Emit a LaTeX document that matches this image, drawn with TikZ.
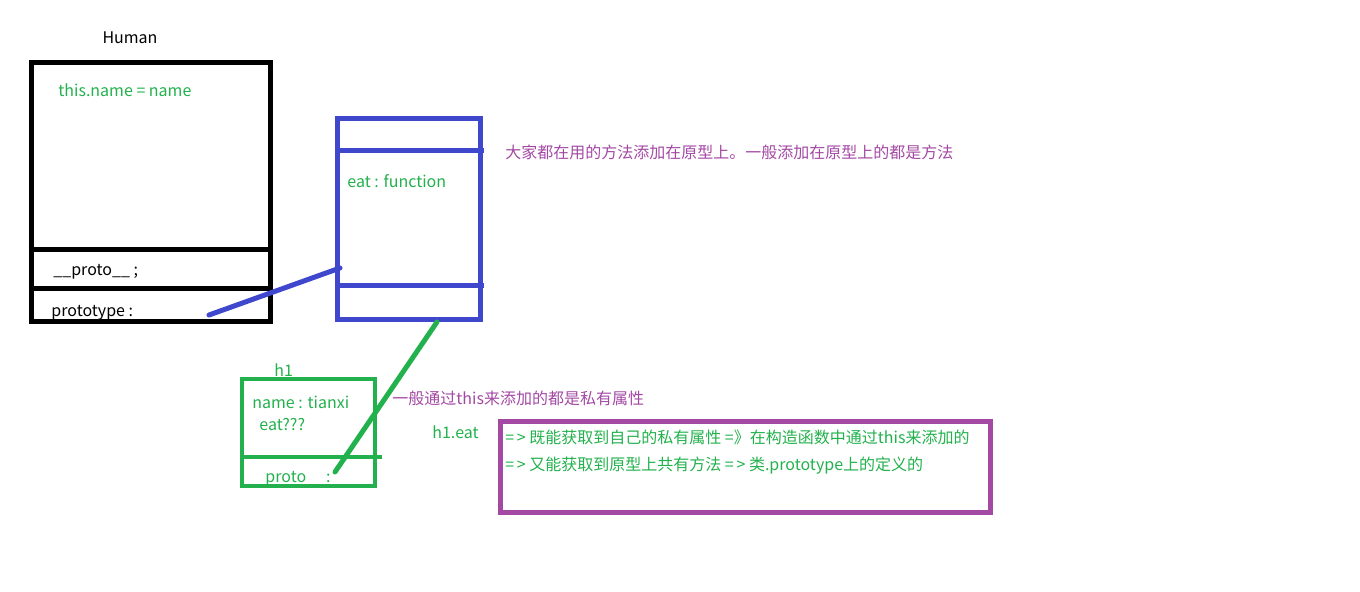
\documentclass[tikz,border=0pt]{standalone}
\usepackage{fontspec}
\setmainfont{Noto Sans CJK SC}
\definecolor{pgreen}{HTML}{22B14C}
\definecolor{pblue}{HTML}{3F48CC}
\definecolor{ppurple}{HTML}{A349A4}

\begin{document}
\begin{tikzpicture}[x=0.5pt,y=-0.5pt,font=\fontsize{8}{10}\selectfont]
    \tikzstyle{box}=[rectangle,draw,line width=2.5pt,inner sep=0pt]
    \tikzstyle{txt}=[anchor=west,inner sep=0pt,text height=4.5pt,text depth=1.5pt,yshift=-1.5pt]
    \tikzstyle{divider}=[line width=2.5pt]
    \tikzstyle{link}=[line width=2.5pt,line cap=round]
    \useasboundingbox (0,0) rectangle (1360,591);

    % Draw the constructor box
    \node[txt,pgreen] (this-name) at (58,90) {this.name\ =\ name};
    \node[txt] (proto-a) at (53,269) {\_\_proto\_\_ ;};
    \node[txt] (prototype) at (51,310) {prototype :};
    \node[box, minimum width=119.5pt, minimum height=129.5pt] (human) at (150.5,191.5) {};
    \node[anchor=center,inner sep=0pt] (human-t) at (130,38) {Human};
    \draw[divider] (human.west |- 0,249) -- (273,249);
    \draw[divider] (human.west |- 0,288) -- (human.east |- 0,288);

    % Draw the prototype object
    \node[box, draw=pblue, minimum width=71.5pt, minimum height=100.5pt] (pobj) at (408.5,218.5) {};
    \draw[divider,pblue] (pobj.west |- 0,150) -- (484,150);
    \draw[divider,pblue] (pobj.west |- 0,285) -- (484,285);
    \node[txt,pgreen] (eat-fn) at (347,181) {eat : function};
    \node[txt,ppurple] (note-a) at (505,152) {大家都在用的方法添加在原型上。一般添加在原型上的都是方法};

    % Draw the instance h1
    \node[box, draw=pgreen, line width=2pt, minimum width=66.5pt, minimum height=53.5pt] (h1) at (308.5,432.5) {};
    \draw[divider,pgreen,line width=2pt] (h1.west |- 0,457) -- (382,457);
    \node[txt,pgreen] (h1-t) at (274,370) {h1};
    \node[txt,pgreen] (h1-name) at (252,402) {name : tianxi};
    \node[txt,pgreen] (h1-eat) at (259,424) {eat???};
    \node[txt,pgreen] (h1-proto) at (265,476) {proto\hspace{10pt}:};
    \node[txt,ppurple] (note-b) at (392,398) {一般通过this来添加的都是私有属性};
    \node[txt,pgreen] (h1-eat-t) at (432,432) {h1.eat};

    % Draw the summary box
    \node[box, draw=ppurple, minimum width=245pt, minimum height=45.5pt] (sum) at (745,466.5) {};
    \node[txt,pgreen] (sum-a) at (505,437) {=\,>\ 既能获取到自己的私有属性 =》在构造函数中通过this来添加的};
    \node[txt,pgreen] (sum-b) at (505,464) {=\,>\ 又能获取到原型上共有方法 =\,>\ 类.prototype上的定义的};

    % Connect the pointers
    \coordinate (ptr-a) at (209,315);
    \coordinate (pobj-in) at (340,268);
    \coordinate (pobj-out) at (437,322);
    \coordinate (ptr-b) at (335,472);
    \draw[link,pblue] (ptr-a) -- (pobj-in);
    \draw[link,pgreen] (pobj-out) -- (ptr-b);
\end{tikzpicture}
\end{document}
